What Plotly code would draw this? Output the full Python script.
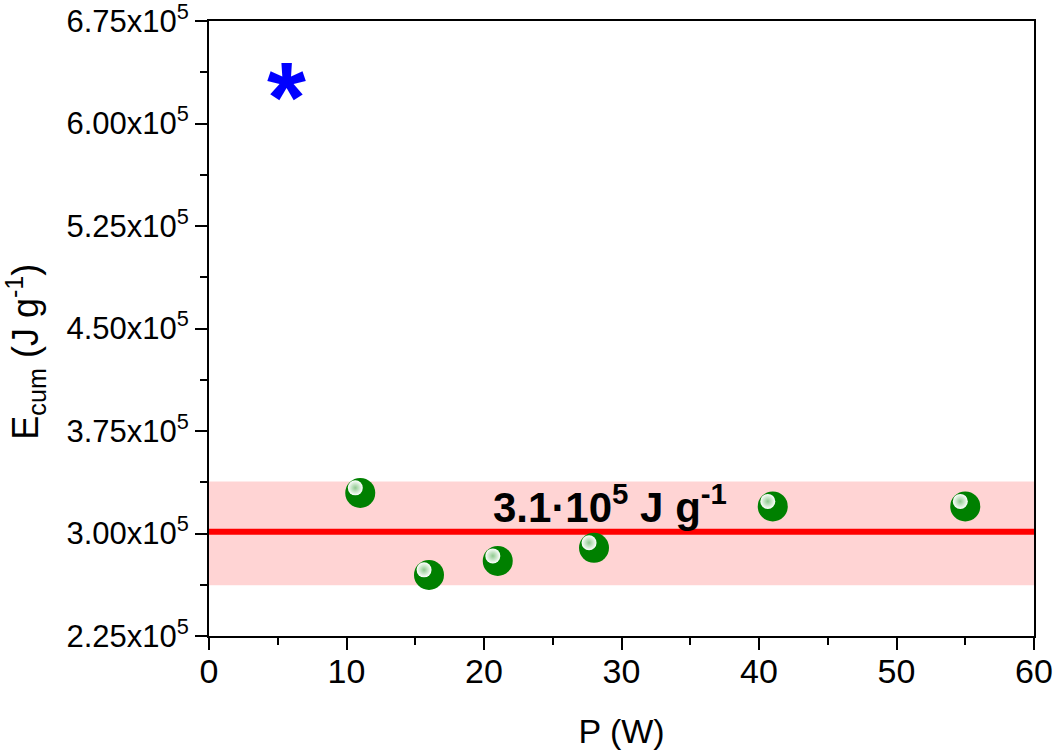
import plotly.graph_objects as go

# ---- data ----
P_W = [11, 16, 21, 28, 41, 55]
E_cum = [3.297e5, 2.697e5, 2.799e5, 2.895e5, 3.198e5, 3.198e5]

star_P = [5.6]
star_E = [6.30e5]

mean_E = 3.012e5
band_lo = 2.622e5
band_hi = 3.380e5
x_span = [0, 60]

label_text = "<b>3.1·10<sup>5</sup> J g<sup>-1</sup></b>"
label_x = 20.5
label_y = 3.215e5

x_tickvals = [0, 10, 20, 30, 40, 50, 60]
y_tickvals = [2.25e5, 3.0e5, 3.75e5, 4.5e5, 5.25e5, 6.0e5, 6.75e5]
y_ticktext = ["2.25x10<sup>5</sup>", "3.00x10<sup>5</sup>", "3.75x10<sup>5</sup>",
              "4.50x10<sup>5</sup>", "5.25x10<sup>5</sup>", "6.00x10<sup>5</sup>",
              "6.75x10<sup>5</sup>"]

# ---- style constants ----
FONT = "Liberation Sans, Arial, sans-serif"
HL_DX = -0.36     # highlight offset (x units) for the sphere look
HL_DY = 3700      # highlight offset (y units)

fig = go.Figure()

# shaded band
fig.add_trace(go.Scatter(x=x_span, y=[band_lo] * len(x_span), mode="lines",
                         line=dict(width=0), hoverinfo="skip", showlegend=False))
fig.add_trace(go.Scatter(x=x_span, y=[band_hi] * len(x_span), mode="lines",
                         line=dict(width=0), fill="tonexty",
                         fillcolor="rgba(255,0,0,0.17)", hoverinfo="skip",
                         showlegend=False))
# mean line
fig.add_trace(go.Scatter(x=x_span, y=[mean_E] * len(x_span), mode="lines",
                         line=dict(color="#FF0000", width=6), showlegend=False,
                         cliponaxis=False))
# green spheres
fig.add_trace(go.Scatter(x=P_W, y=E_cum, mode="markers",
                         marker=dict(size=30, color="#008000",
                                     line=dict(width=0)),
                         showlegend=False))
fig.add_trace(go.Scatter(x=[p + HL_DX for p in P_W], y=[e + HL_DY for e in E_cum],
                         mode="markers",
                         marker=dict(size=15, color="#ffffff",
                                     gradient=dict(type="radial", color="#8fc98f"),
                                     line=dict(width=0)),
                         hoverinfo="skip", showlegend=False))
# blue star
fig.add_annotation(x=star_P[0], y=star_E[0], text="<b>*</b>", showarrow=False,
                   xanchor="center", yanchor="middle", yshift=-14,
                   font=dict(family=FONT, size=100, color="#0000FF"))

fig.add_annotation(x=label_x, y=label_y, text=label_text, showarrow=False,
                   xanchor="left", yanchor="middle",
                   font=dict(family=FONT, size=42, color="black"))

# y-axis title
fig.add_annotation(xref="paper", yref="paper", x=-0.222, y=0.462,
                   text="E<sub>cum</sub> (J g<sup>-1</sup>)", textangle=-90,
                   showarrow=False, xanchor="center", yanchor="middle",
                   font=dict(family=FONT, size=36, color="black"))

axis_common = dict(showgrid=False, zeroline=False, showline=True, linewidth=2,
                   linecolor="black", mirror=True, ticks="outside", ticklen=12,
                   tickwidth=2, tickcolor="black")

fig.update_xaxes(range=[0, 60], tickvals=x_tickvals,
                 tickfont=dict(family=FONT, size=34, color="black"),
                 ticklabelstandoff=-8,
                 title=dict(text="P (W)", font=dict(family=FONT, size=34, color="black"),
                            standoff=30),
                 minor=dict(ticks="outside", ticklen=7, tickwidth=2, tickcolor="black",
                            dtick=5, tick0=0, showgrid=False),
                 **axis_common)
fig.update_yaxes(range=[2.25e5 - 1, 6.75e5 + 1], tickvals=y_tickvals, ticktext=y_ticktext,
                 tickfont=dict(family=FONT, size=31, color="black"),
                 ticklabeloverflow="allow",
                 minor=dict(ticks="outside", ticklen=7, tickwidth=2, tickcolor="black",
                            dtick=37500, tick0=225000, showgrid=False),
                 **axis_common)

fig.update_layout(width=1055, height=755, plot_bgcolor="white", paper_bgcolor="white",
                  margin=dict(l=209, r=21, t=21, b=119, autoexpand=False),
                  font=dict(family=FONT))

fig.write_html("out.html")
